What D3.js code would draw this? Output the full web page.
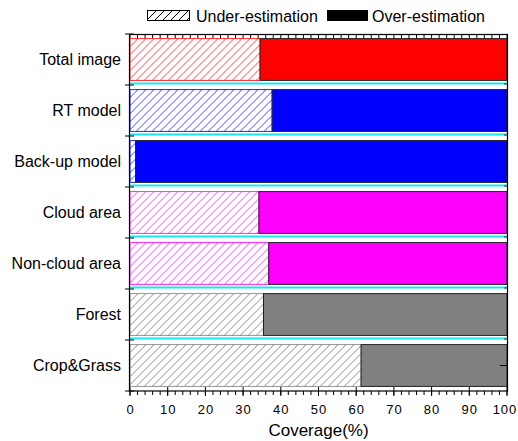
<!DOCTYPE html>
<html><head><meta charset="utf-8">
<script src="https://cdn.jsdelivr.net/npm/d3@7"></script>
<style>body{margin:0;background:#fff}svg{display:block}text{font-family:"Liberation Sans",Arial,sans-serif}</style>
</head><body><svg id="c" width="518" height="441"></svg>
<script>
const categories = ["Total image","RT model","Back-up model","Cloud area","Non-cloud area","Forest","Crop&Grass"];
const underValues = [34.5, 37.7, 1.5, 34.2, 36.8, 35.4, 61.3];
const overValues = underValues.map(v => 100 - v);
const colors = ["#ff0000","#0000ff","#0000ff","#ff00ff","#ff00ff","#808080","#808080"];
const hatchColors = ["#ff4545","#4545ff","#4545ff","#ff45ff","#ff45ff","#8c8c8c","#8c8c8c"];
const xTicks = [0,10,20,30,40,50,60,70,80,90,100];
const legendLabels = ["Under-estimation","Over-estimation"];

const svg = d3.select("#c");
const L=130, R=507, T=34, B=391;
const x = d3.scaleLinear().domain([0,100]).range([L,R]);
const y = d3.scaleBand().domain(categories).range([T,B]).paddingInner(0.18).paddingOuter(0.09);
const step = y.step();
const defs = svg.append("defs");

function hatchRect(parent, id, x0, y0, w, h, col, sw){
  defs.append("clipPath").attr("id",id).append("rect").attr("x",x0).attr("y",y0).attr("width",w).attr("height",h);
  const gg = parent.append("g").attr("clip-path","url(#"+id+")");
  gg.append("rect").attr("x",x0).attr("y",y0).attr("width",w).attr("height",h).attr("fill","#fff");
  const offs = d3.range(-h-8, w+8, 8);
  gg.selectAll("line").data(offs).join("line")
    .attr("x1",d=>x0+d).attr("y1",y0+h).attr("x2",d=>x0+d+h).attr("y2",y0)
    .attr("stroke",col).attr("stroke-width",sw);
}

// separators (cyan lines)
const bounds = d3.range(1,categories.length).map(i => T + i*step);
svg.append("g").selectAll("line").data(bounds).join("line")
  .attr("x1",L).attr("x2",R).attr("y1",d=>d-1.5).attr("y2",d=>d-1.5)
  .attr("stroke","#19e6f0").attr("stroke-width",2);

// bars
const g = svg.append("g");
categories.forEach((cat,i)=>{
  const yy = y(cat), h = y.bandwidth();
  const w = x(underValues[i])-x(0);
  hatchRect(g, "clip"+i, x(0), yy, w, h, hatchColors[i], 1);
  g.append("rect").attr("x",x(0)).attr("y",yy).attr("width",w).attr("height",h)
    .attr("fill","none").attr("stroke",colors[i]).attr("stroke-width",1).attr("stroke-opacity",0.85);
  g.append("rect").attr("x",x(underValues[i])).attr("y",yy).attr("width",x(100)-x(underValues[i])).attr("height",h)
    .attr("fill",colors[i]).attr("stroke","#222").attr("stroke-width",1);
});

// frame
svg.append("rect").attr("x",L-0.5).attr("y",T+0.5).attr("width",R-L+1).attr("height",B-T-0.5)
  .attr("fill","none").attr("stroke","#000").attr("stroke-width",1.2);

// bottom axis
const minor = d3.range(0,101,2);
const ax = svg.append("g");
ax.selectAll("line.mi").data(minor).join("line").attr("class","mi")
  .attr("x1",d=>x(d)).attr("x2",d=>x(d)).attr("y1",B).attr("y2",B+4).attr("stroke","#000");
ax.selectAll("line.ma").data(xTicks).join("line").attr("class","ma")
  .attr("x1",d=>x(d)).attr("x2",d=>x(d)).attr("y1",B-4).attr("y2",B+5).attr("stroke","#000");
ax.selectAll("text").data(xTicks).join("text")
  .attr("x",d=>x(d)+(d===100?-2:0.5)).attr("y",414).attr("text-anchor","middle")
  .attr("font-size",13).attr("letter-spacing",1).text(d=>d);
svg.append("text").attr("x",(L+R)/2).attr("y",436).attr("text-anchor","middle")
  .attr("font-size",17).text("Coverage(%)");

// top axis minor ticks
svg.append("g").selectAll("line").data(minor).join("line")
  .attr("x1",d=>x(d)).attr("x2",d=>x(d)).attr("y1",T).attr("y2",T+4).attr("stroke","#000");

// left axis ticks
const lb = [T].concat(bounds).concat([B]);
svg.append("g").selectAll("line").data(lb).join("line")
  .attr("x1",L-5).attr("x2",L+4).attr("y1",d=>d).attr("y2",d=>d).attr("stroke","#000");
// right axis ticks
svg.append("g").selectAll("line").data(bounds).join("line")
  .attr("x1",R-3).attr("x2",R).attr("y1",d=>d-1).attr("y2",d=>d-1).attr("stroke","#333");
svg.append("line").attr("x1",R-7).attr("x2",R).attr("y1",y(categories[6])+y.bandwidth()/2).attr("y2",y(categories[6])+y.bandwidth()/2).attr("stroke","#000");

// category labels
svg.append("g").selectAll("text").data(categories).join("text")
  .attr("x",121).attr("y",d=>y(d)+y.bandwidth()/2+5.5).attr("text-anchor","end")
  .attr("font-size",16).text(d=>d);

// legend
const lg = svg.append("g");
hatchRect(lg, "clipLegend", 148, 11, 41, 9, "#000", 1);
lg.append("rect").attr("x",147.5).attr("y",10.5).attr("width",42).attr("height",10)
  .attr("fill","none").attr("stroke","#000");
svg.append("text").attr("x",196).attr("y",21.5).attr("font-size",16).text(legendLabels[0]);
svg.append("rect").attr("x",327).attr("y",10).attr("width",41).attr("height",11).attr("fill","#000");
svg.append("text").attr("x",372).attr("y",21.5).attr("font-size",16).text(legendLabels[1]);
</script></body></html>
